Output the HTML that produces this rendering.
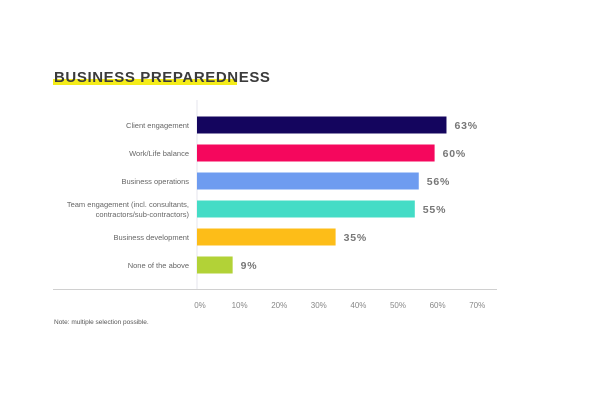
<!DOCTYPE html>
<html><head><meta charset="utf-8"><style>
body{margin:0;background:#fff;width:600px;height:400px;overflow:hidden;font-family:"Liberation Sans",sans-serif}
</style></head><body>
<svg width="600" height="400">
<rect x="53" y="79" width="184" height="6" fill="#f4ec1a"/>
<text x="54" y="82" font-size="15" font-weight="bold" fill="#3b3b3b" letter-spacing="0.6">BUSINESS PREPAREDNESS</text>
<line x1="197" y1="100" x2="197" y2="290" stroke="#e4e4ec" stroke-width="1"/>
<line x1="53" y1="289.5" x2="497" y2="289.5" stroke="#d0d0d0" stroke-width="1"/>
<g id="bars"></g>
<g id="ticks"></g>
<text x="54" y="324" font-size="6.5" fill="#555">Note: multiple selection possible.</text>
</svg>
<script>
const categories=[["Client engagement"],["Work/Life balance"],["Business operations"],["Team engagement (incl. consultants,","contractors/sub-contractors)"],["Business development"],["None of the above"]];
const values=[63,60,56,55,35,9];
const colors=["#14055e","#f5075d","#6e9cf0","#44dcc6","#fdbd18","#b2d237"];
const tickValues=[0,10,20,30,40,50,60,70];
const x=v=>197+v*3.96;
const y=i=>125+i*28;
const NS="http://www.w3.org/2000/svg";
const bars=document.getElementById('bars'),ticks=document.getElementById('ticks');
values.forEach((v,i)=>{
 const r=document.createElementNS(NS,'rect');
 r.setAttribute('x',x(0));r.setAttribute('y',y(i)-8.5);r.setAttribute('width',x(v)-x(0));r.setAttribute('height',17);r.setAttribute('fill',colors[i]);
 
 
 bars.appendChild(r);
 const t=document.createElementNS(NS,'text');
 t.setAttribute('x',x(v)+8);t.setAttribute('y',y(i)+4);t.setAttribute('font-size','10.5');t.setAttribute('font-weight','bold');t.setAttribute('fill','#777');t.setAttribute('letter-spacing','0.8');
 t.textContent=v+'%';
 
 
 bars.appendChild(t);
 const lines=categories[i];
 lines.forEach((s,j)=>{
  const c=document.createElementNS(NS,'text');
  c.setAttribute('x',189);c.setAttribute('y',y(i)+3+(j-(lines.length-1)/2)*10);c.setAttribute('font-size','7.5');c.setAttribute('fill','#666');c.setAttribute('text-anchor','end');
  c.textContent=s;
  
  
  bars.appendChild(c);
 });
});
tickValues.forEach(v=>{
 const t=document.createElementNS(NS,'text');
 t.setAttribute('x',x(v)+3);t.setAttribute('y',308);t.setAttribute('font-size','8');t.setAttribute('fill','#888');t.setAttribute('text-anchor','middle');
 t.textContent=v+'%';
 
 
 ticks.appendChild(t);
});
</script>
</body></html>
